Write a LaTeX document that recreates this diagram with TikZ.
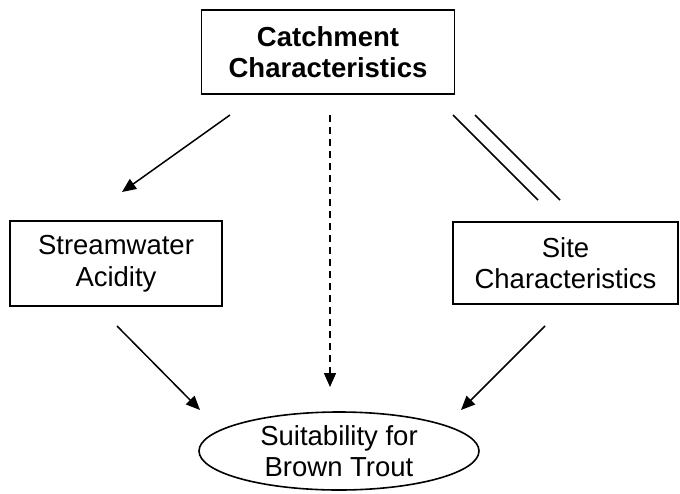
\documentclass[tikz,border=0pt]{standalone}
\usepackage{fontspec}
\setmainfont{Liberation Sans}
\usetikzlibrary{arrows.meta,shapes.geometric}
\begin{document}
\begin{tikzpicture}[x=1pt,y=-1pt,
  box/.style={draw,line width=1.6pt,rectangle,inner sep=0pt,align=center,font=\fontsize{27.5}{31.5}\selectfont},
  conn/.style={line width=1.5pt},
  arr/.style={conn,-{Triangle[length=14pt,width=12pt]}}]
\useasboundingbox (0,0) rectangle (680,493);
\node[box,minimum width=253pt,minimum height=84pt,font=\fontsize{27.5}{31.5}\selectfont\bfseries] (cc) at (328,52) {Catchment\\Characteristics};
\node[box,minimum width=212pt,minimum height=85pt] (sa) at (116,263.5) {Streamwater\\Acidity};
\node[box,minimum width=225pt,minimum height=82pt] (sc) at (565.5,263) {Site\\Characteristics};
\node[draw,line width=1.6pt,ellipse,inner sep=0pt,minimum width=280pt,minimum height=78pt,align=center,font=\fontsize{27.5}{31.5}\selectfont] (st) at (339,451) {Suitability for\\Brown Trout};
% free ends
\coordinate (a1s) at (230,115); \coordinate (a1e) at (122,192);
\coordinate (ds) at (330,115); \coordinate (de) at (330,387);
\coordinate (l1s) at (453,115); \coordinate (l1e) at (538,200);
\coordinate (l2s) at (475,115); \coordinate (l2e) at (560,200);
\coordinate (a2s) at (117,326); \coordinate (a2e) at (200,410);
\coordinate (a3s) at (545,326); \coordinate (a3e) at (461,410);
\draw[arr] (a1s) -- (a1e);
\draw[arr,dashed,dash pattern=on 7pt off 5pt] (ds) -- (de);
\draw[conn] (l1s) -- (l1e);
\draw[conn] (l2s) -- (l2e);
\draw[arr] (a2s) -- (a2e);
\draw[arr] (a3s) -- (a3e);
\end{tikzpicture}
\end{document}
